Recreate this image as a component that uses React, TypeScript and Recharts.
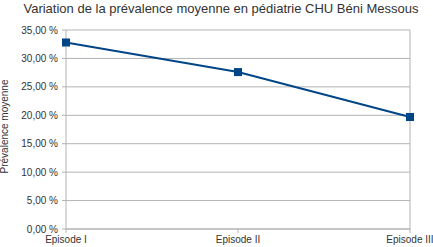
import { CartesianGrid, Line, LineChart, ReferenceLine, XAxis, YAxis } from "recharts";

const episodes = ["Episode I", "Episode II", "Episode III"];
const prevalence = [32.8, 27.6, 19.7];
const yTicks = [0, 5, 10, 15, 20, 25, 30, 35];

const data = episodes.map((name, i) => ({ name, value: prevalence[i] }));

const font = "'Liberation Sans', Arial, sans-serif";
const textColor = "#333333";
const gridColor = "#b3b3b3";

const formatPercent = (v: number) => `${v.toFixed(2).replace(".", ",")} %`;

export default function App() {
  return (
    <div style={{ position: "absolute", left: 0, top: 0, width: 433, height: 247, fontFamily: font, background: "#fff" }}>
      <div
        style={{
          position: "absolute",
          left: 0,
          top: 1,
          width: 442,
          textAlign: "center",
          fontSize: 13,
          color: textColor,
        }}
      >
        Variation de la prévalence moyenne en pédiatrie CHU Béni Messous
      </div>
      <LineChart width={433} height={247} data={data} margin={{ top: 30, right: 23, left: 0, bottom: 0 }}>
        <CartesianGrid vertical={false} stroke={gridColor} />
        <XAxis
          dataKey="name"
          height={18}
          tickSize={4}
          tickMargin={3}
          stroke={gridColor}
          tick={{ fill: textColor, fontSize: 10, fontFamily: font }}
          interval={0}
        />
        <YAxis
          domain={[0, 35]}
          ticks={yTicks}
          width={66}
          tickSize={4}
          tickMargin={4}
          stroke={gridColor}
          tickFormatter={formatPercent}
          tick={{ fill: textColor, fontSize: 10, fontFamily: font }}
          label={{
            value: "Prévalence moyenne",
            angle: -90,
            position: "insideLeft",
            offset: 0,
            dx: 4,
            dy: -3,
            style: { textAnchor: "middle", fill: textColor, fontSize: 10, fontFamily: font },
          }}
        />
        <ReferenceLine x="Episode III" stroke={gridColor} />
        <Line
          type="linear"
          dataKey="value"
          stroke="#004586"
          strokeWidth={2}
          isAnimationActive={false}
          dot={(props: any) => (
            <rect key={props.index} x={props.cx - 4} y={props.cy - 4} width={8} height={8} fill="#004586" />
          )}
          activeDot={false}
        />
      </LineChart>
    </div>
  );
}
